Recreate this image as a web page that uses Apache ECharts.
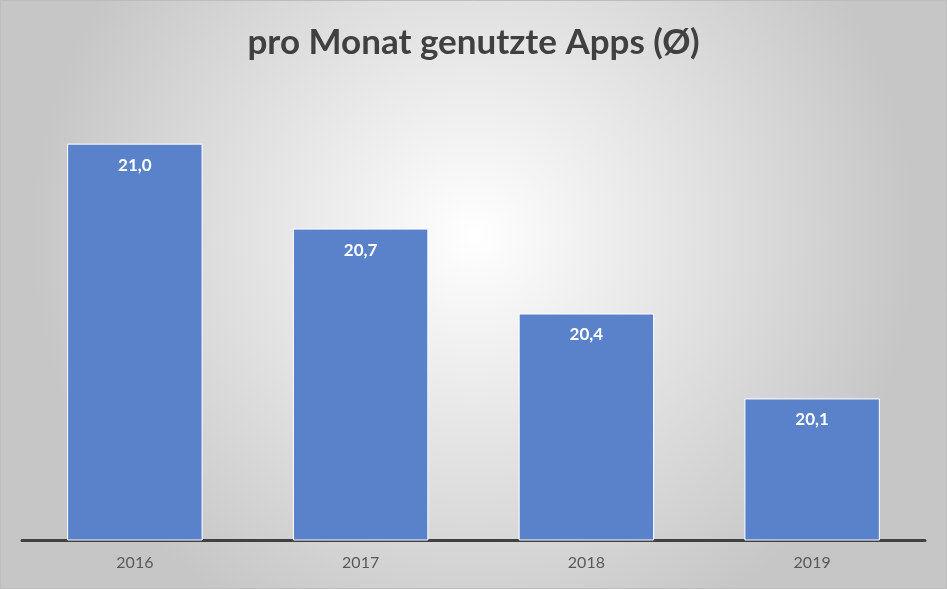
<!DOCTYPE html>
<html>
<head>
<meta charset="utf-8">
<script src="https://cdn.jsdelivr.net/npm/echarts@6/dist/echarts.min.js"></script>
<style>
    html, body { margin: 0; padding: 0; }
    #chart { width: 947px; height: 589px; }
</style>
</head>
<body>
<div id="chart"></div>
<script>
// Daten
var years = ['2016', '2017', '2018', '2019'];
var appsPerMonth = [21.0, 20.7, 20.4, 20.1];

var chart = echarts.init(document.getElementById('chart'));
var option = {
    backgroundColor: {
        type: 'radial',
        x: 0.5, y: 0.4, r: 0.75,
        colorStops: [
            {offset: 0, color: '#ffffff'},
            {offset: 1, color: '#c6c6c6'}
        ]
    },
    title: {
        text: 'pro Monat genutzte Apps (Ø)',
        left: 'center',
        top: 20,
        textStyle: {
            fontFamily: 'Lato',
            fontSize: 35,
            fontWeight: 'bold',
            color: '#404040'
        }
    },
    grid: {
        left: 22,
        right: 22,
        top: 87,
        bottom: 49
    },
    xAxis: {
        type: 'category',
        data: years,
        axisTick: {show: false},
        axisLine: {
            lineStyle: {color: '#404040', width: 3}
        },
        axisLabel: {
            margin: 15,
            fontFamily: 'Lato',
            fontSize: 16,
            color: '#595959'
        }
    },
    yAxis: {
        type: 'value',
        min: 19.6,
        max: 21.2,
        show: false,
        splitLine: {show: false}
    },
    series: [
        {
            type: 'bar',
            data: appsPerMonth,
            barWidth: '60%',
            itemStyle: {
                color: '#5a82ca',
                borderColor: '#ffffff',
                borderWidth: 1
            },
            label: {
                show: true,
                position: 'insideTop',
                distance: 13,
                fontFamily: 'Lato',
                fontSize: 17,
                fontWeight: 'bold',
                color: '#ffffff',
                formatter: function (p) {
                    return p.value.toFixed(1).replace('.', ',');
                }
            }
        }
    ],
    graphic: [
        {
            type: 'rect',
            shape: {x: 0.5, y: 0.5, width: 946, height: 588},
            style: {fill: 'none', stroke: '#bdbdbd', lineWidth: 1},
            silent: true
        }
    ]
};
chart.setOption(option);
</script>
</body>
</html>
